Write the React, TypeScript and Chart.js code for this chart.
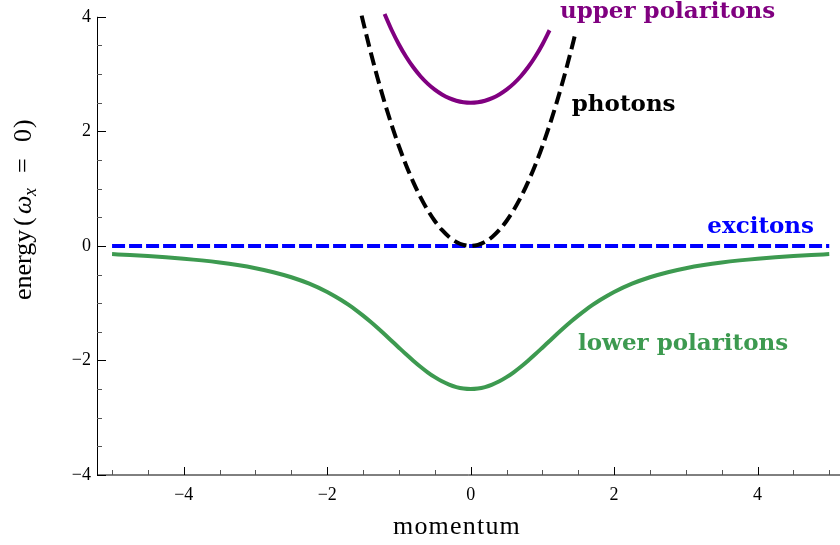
import React, { useEffect, useRef } from "react";
import { Chart, registerables } from "chart.js";

Chart.register(...registerables);

// momentum values and energies
const lowerK = [-5, -4.75, -4.5, -4.25, -4, -3.75, -3.5, -3.25, -3, -2.75, -2.5, -2.25, -2, -1.9, -1.8, -1.7, -1.6, -1.5, -1.4, -1.3, -1.2, -1.1, -1, -0.9, -0.8, -0.7, -0.6, -0.5, -0.4, -0.3, -0.2, -0.1, 0, 0.1, 0.2, 0.3, 0.4, 0.5, 0.6, 0.7, 0.8, 0.9, 1, 1.1, 1.2, 1.3, 1.4, 1.5, 1.6, 1.7, 1.8, 1.9, 2, 2.25, 2.5, 2.75, 3, 3.25, 3.5, 3.75, 4, 4.25, 4.5, 4.75, 5];
const lowerE = [-0.1432, -0.1586, -0.1765, -0.1976, -0.2227, -0.2528, -0.2893, -0.334, -0.3894, -0.459, -0.5472, -0.6601, -0.8049, -0.8735, -0.9489, -1.0314, -1.121, -1.2177, -1.321, -1.43, -1.5436, -1.6599, -1.777, -1.8928, -2.0044, -2.1098, -2.2064, -2.292, -2.3647, -2.423, -2.4655, -2.4913, -2.5, -2.4913, -2.4655, -2.423, -2.3647, -2.292, -2.2064, -2.1098, -2.0044, -1.8928, -1.777, -1.6599, -1.5436, -1.43, -1.321, -1.2177, -1.121, -1.0314, -0.9489, -0.8735, -0.8049, -0.6601, -0.5472, -0.459, -0.3894, -0.334, -0.2893, -0.2528, -0.2227, -0.1976, -0.1765, -0.1586, -0.1432];

const upperK = [-1.2, -1.1, -1, -0.9, -0.8, -0.7, -0.6, -0.5, -0.4, -0.3, -0.2, -0.1, 0, 0.1, 0.2, 0.3, 0.4, 0.5, 0.6, 0.7, 0.8, 0.9, 1, 1.1];
const upperE = [4.0491, 3.7653, 3.5171, 3.3021, 3.1181, 2.9624, 2.8327, 2.7269, 2.6431, 2.5795, 2.535, 2.5087, 2.5, 2.5087, 2.535, 2.5795, 2.6431, 2.7269, 2.8327, 2.9624, 3.1181, 3.3021, 3.5171, 3.7653];

const photonK = [-1.52, -1.4, -1.3, -1.2, -1.1, -1, -0.9, -0.8, -0.7, -0.6, -0.5, -0.4, -0.3, -0.2, -0.1, 0, 0.1, 0.2, 0.3, 0.4, 0.5, 0.6, 0.7, 0.8, 0.9, 1, 1.1, 1.2, 1.3, 1.4, 1.455];
const photonE = [4.0201, 3.4104, 2.9406, 2.5056, 2.1054, 1.74, 1.4094, 1.1136, 0.8526, 0.6264, 0.435, 0.2784, 0.1566, 0.0696, 0.0174, 0, 0.0174, 0.0696, 0.1566, 0.2784, 0.435, 0.6264, 0.8526, 1.1136, 1.4094, 1.74, 2.1054, 2.5056, 2.9406, 3.4104, 3.6836];

const excitonK = [-5, 5];
const excitonE = [0, 0];

const xTicks = [-4, -2, 0, 2, 4];
const yTicks = [-4, -2, 0, 2, 4];

const seriesLabels = ["upper polaritons", "photons", "excitons", "lower polaritons"];
const xTitle = "momentum";

const toPts = (xs: number[], ys: number[]) => xs.map((x, i) => ({ x, y: ys[i] }));
const fmt = (v: number) => (v < 0 ? "\u2212" + Math.abs(v) : String(v));

const SERIF = "'Liberation Serif', 'Times New Roman', serif";
const BOLD = "'DejaVu Serif', serif";

const decor = {
  id: "decor",
  afterDraw(chart: any) {
    const { ctx, chartArea: a, scales } = chart;
    const xs = scales.x;
    const ys = scales.y;
    ctx.save();
    // axis lines
    ctx.strokeStyle = "#000";
    ctx.lineWidth = 1;
    ctx.beginPath();
    ctx.moveTo(a.left + 0.5, a.top);
    ctx.lineTo(a.left + 0.5, a.bottom);
    ctx.moveTo(a.left, a.bottom);
    ctx.lineTo(a.right, a.bottom);
    ctx.stroke();
    // ticks (inside)
    for (let i = -8; i <= 8; i++) {
      const v = i / 2;
      const major = i % 4 === 0;
      const py = ys.getPixelForValue(v);
      ctx.strokeStyle = major ? "#000" : "#555";
      ctx.beginPath();
      ctx.moveTo(a.left, Math.round(py) + 0.5);
      ctx.lineTo(a.left + (major ? 9 : 5), Math.round(py) + 0.5);
      ctx.stroke();
    }
    for (let i = -10; i <= 10; i++) {
      const v = i / 2;
      const major = i % 4 === 0;
      const px = xs.getPixelForValue(v);
      ctx.strokeStyle = major ? "#000" : "#555";
      ctx.beginPath();
      ctx.moveTo(Math.round(px) + 0.5, a.bottom);
      ctx.lineTo(Math.round(px) + 0.5, a.bottom - (major ? 8 : 5));
      ctx.stroke();
    }
    // x title
    ctx.fillStyle = "#000";
    ctx.font = "26px " + SERIF;
    try { (ctx as any).letterSpacing = "1.2px"; } catch (e) {}
    ctx.textAlign = "center";
    ctx.textBaseline = "alphabetic";
    ctx.fillText(xTitle, 457, 534);
    try { (ctx as any).letterSpacing = "0px"; } catch (e) {}
    // y title (rotated)
    ctx.save();
    ctx.translate(31, 300);
    ctx.rotate(-Math.PI / 2);
    ctx.textAlign = "left";
    ctx.font = "26px " + SERIF;
    ctx.fillText("energy", 0, 0);
    ctx.fillText("(", 74, 0);
    ctx.font = "italic 26px " + SERIF;
    ctx.fillText("\u03c9", 86, 0);
    ctx.font = "italic 18px " + SERIF;
    ctx.fillText("x", 104, 5);
    ctx.font = "26px " + SERIF;
    ctx.fillText("=", 127, 0);
    ctx.fillText("0", 158, 0);
    ctx.fillText(")", 172, 0);
    ctx.restore();
    // series labels
    ctx.textAlign = "left";
    ctx.font = "bold 23px " + BOLD;
    const put = (t: string, kx: number, ey: number, color: string) => {
      ctx.fillStyle = color;
      ctx.fillText(t, xs.getPixelForValue(kx), ys.getPixelForValue(ey));
    };
    put(seriesLabels[0], 1.245, 3.98, "#800080");
    put(seriesLabels[1], 1.41, 2.36, "#000000");
    put(seriesLabels[2], 3.3, 0.22, "#0000ff");
    put(seriesLabels[3], 1.497, -1.82, "#3d9a50");
    ctx.restore();
  },
};

export default function App() {
  const ref = useRef<HTMLCanvasElement | null>(null);
  useEffect(() => {
    if (!ref.current) return;
    const common = {
      fill: false,
      pointRadius: 0,
      borderWidth: 4,
      cubicInterpolationMode: "monotone" as const,
      clip: false as any,
    };
    const chart = new Chart(ref.current, {
      type: "line",
      data: {
        datasets: [
          { ...common, label: "photons", data: toPts(photonK, photonE), borderColor: "#000000", borderDash: [13, 6] },
          { ...common, label: "upper polaritons", data: toPts(upperK, upperE), borderColor: "#800080" },
          { ...common, label: "excitons", data: toPts(excitonK, excitonE), borderColor: "#0000ff", borderDash: [13, 4] },
          { ...common, label: "lower polaritons", data: toPts(lowerK, lowerE), borderColor: "#3d9a50" },
        ],
      },
      options: {
        animation: false,
        responsive: false,
        devicePixelRatio: 1,
        layout: { padding: { top: 13, left: 0, right: 0, bottom: 0 } },
        plugins: { legend: { display: false }, tooltip: { enabled: false } },
        scales: {
          x: {
            type: "linear",
            min: -5.21,
            max: 5.15,
            grid: { display: false, drawTicks: false },
            border: { display: false },
            afterFit: (s: any) => { s.height = 70; },
            afterBuildTicks: (s: any) => { s.ticks = xTicks.map((v) => ({ value: v })); },
            ticks: {
              padding: 9,
              color: "#000",
              font: { family: SERIF, size: 18 },
              maxRotation: 0,
              autoSkip: false,
              callback: (v: any) => fmt(Number(v)),
            },
          },
          y: {
            type: "linear",
            min: -4,
            max: 4,
            grid: { display: false, drawTicks: false },
            border: { display: false },
            afterFit: (s: any) => { s.width = 97; },
            afterBuildTicks: (s: any) => { s.ticks = yTicks.map((v) => ({ value: v })); },
            ticks: {
              padding: 6,
              color: "#000",
              font: { family: SERIF, size: 18 },
              autoSkip: false,
              callback: (v: any) => fmt(Number(v)),
            },
          },
        },
      },
      plugins: [decor],
    });
    return () => chart.destroy();
  }, []);
  return (
    <div style={{ position: "fixed", left: 0, top: 0, width: 840, height: 545, background: "#fff" }}>
      <canvas ref={ref} width={840} height={545} style={{ display: "block" }} />
    </div>
  );
}
